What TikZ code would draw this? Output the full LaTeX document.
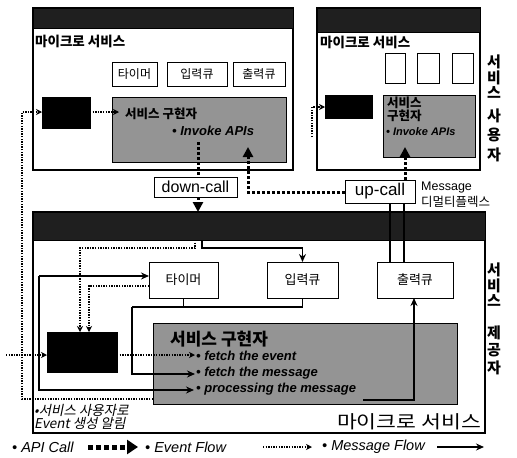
\documentclass[tikz,border=0pt]{standalone}
\usepackage{fontspec}
\setmainfont{Liberation Sans}
\newfontfamily\kr{Noto Sans CJK KR}
\newfontfamily\krit[FakeSlant=0.2]{Noto Sans CJK KR}
\usetikzlibrary{arrows.meta,fit}
\tikzset{
  frame/.style={draw=black, line width=1.1pt, fill=white, inner sep=0pt, outer sep=0pt},
  hdr/.style={fill=black!88, draw=black, inner sep=0pt, outer sep=0pt},
  qbox/.style={draw=black, line width=0.9pt, fill=white, inner sep=0pt, outer sep=0pt},
  qlab/.style={inner sep=0pt, font=\kr\fontsize{12}{13}\selectfont},
  dbox/.style={fill=black, draw=black, inner sep=0pt, outer sep=0pt},
  gbox/.style={fill=black!42, draw=black, line width=1pt, inner sep=0pt, outer sep=0pt},
  callbox/.style={draw=black, line width=0.9pt, fill=white, inner sep=0pt, outer sep=0pt},
  apiline/.style={line width=3pt, dash pattern=on 3pt off 2pt},
  api/.style={apiline, -{Triangle[length=10pt,width=10pt]}},
  event/.style={line width=1.4pt, dash pattern=on 1.4pt off 1.2pt, -{Stealth[length=6pt,width=6pt]}},
  msgline/.style={line width=1.5pt},
  msg/.style={msgline, -{Stealth[length=8pt,width=7pt]}},
  krlab/.style={font=\kr\bfseries\fontsize{13.5}{14}\selectfont, inner sep=0pt},
  vlab/.style={font=\kr\bfseries\fontsize{15}{15}\selectfont, inner sep=0pt, align=center},
  bitem/.style={font=\bfseries\itshape\fontsize{13}{14}\selectfont, inner sep=0pt, anchor=west},
  legend/.style={font=\itshape\fontsize{14.5}{15}\selectfont, inner sep=0pt, anchor=west},
}
\begin{document}
\begin{tikzpicture}[x=1pt,y=-1pt]
\useasboundingbox (0,0) rectangle (517,458);

% ---------------- top-left consumer
\node[frame, fit={(33,8) (293,170)}] (F1) {};
\node[hdr, fit={(33,8) (293,28)}] (H1) {};
\node[krlab, anchor=west] (L1) at (35,41) {마이크로 서비스};
\node[qbox, fit={(112,62) (157,86)}] (QT1) {};
\node[qlab] (QT1t) at (QT1.center) {타이머};
\node[qbox, fit={(167,62) (227,86)}] (QI1) {};
\node[qlab] (QI1t) at (QI1.center) {입력큐};
\node[qbox, fit={(233,62) (285,86)}] (QO1) {};
\node[qlab] (QO1t) at (QO1.center) {출력큐};
\node[dbox, fit={(42,97) (90,128)}] (D1) {};
\node[gbox, fit={(112,97) (286,162)}] (G1) {};
\node[krlab, anchor=west, font=\kr\bfseries\fontsize{12.5}{13}\selectfont] (G1a) at (125,114) {서비스 구현자};
\node[bitem] (G1b) at (172,131) {• Invoke APIs};

% ---------------- top-right consumer
\node[frame, fit={(317,8) (480,170)}] (F2) {};
\node[hdr, fit={(317,8) (480,32)}] (H2) {};
\node[krlab, anchor=west] (L2) at (320,42) {마이크로 서비스};
\node[qbox, fit={(385,53) (405,83)}] (E1) {};
\node[qbox, fit={(417,53) (439,83)}] (E2) {};
\node[qbox, fit={(452,53) (473,83)}] (E3) {};
\node[dbox, fit={(325,95) (372,118)}] (D2) {};
\node[gbox, fit={(383,95) (475,157)}] (G2) {};
\node[anchor=north west, align=left, font=\kr\bfseries\fontsize{12.5}{11}\selectfont, inner sep=0pt] (G2a) at (387,97) {서비스\\구현자};
\node[bitem, font=\bfseries\itshape\fontsize{11}{12}\selectfont] (G2b) at (386,132) {• Invoke APIs};

% ---------------- bottom provider
\node[frame, fit={(33,212) (485,433)}] (F3) {};
\node[hdr, fit={(33,212) (485,240)}] (H3) {};
\node[qbox, fit={(149,262) (218,298)}] (QT3) {};
\node[qlab, font=\kr\fontsize{13}{14}\selectfont] (QT3t) at (QT3.center) {타이머};
\node[qbox, fit={(267,262) (338,298)}] (QI3) {};
\node[qlab, font=\kr\fontsize{13}{14}\selectfont] (QI3t) at (QI3.center) {입력큐};
\node[qbox, fit={(377,262) (453,298)}] (QO3) {};
\node[qlab, font=\kr\fontsize{13}{14}\selectfont] (QO3t) at (QO3.center) {출력큐};
\node[dbox, fit={(47,332) (117,372)}] (D3) {};
\node[gbox, fit={(153,323) (457,404)}] (G3) {};
\node[anchor=west, font=\kr\bfseries\fontsize{17}{18}\selectfont, inner sep=0pt] (G3a) at (170,339) {서비스 구현자};
\node[bitem] (G3b) at (196,356) {• fetch the event};
\node[bitem] (G3c) at (196,373) {• fetch the message};
\node[bitem] (G3d) at (196,389) {• processing the message};
\node[font=\kr\fontsize{18}{18}\selectfont, inner sep=0pt] (L3) at (409,422) {\scalebox{1.2}[1]{마이크로 서비스}};
\node[anchor=west, align=left, font=\krit\fontsize{13.5}{13}\selectfont, inner sep=0pt] (N3) at (34,417) {•서비스 사용자로\\Event 생성 알림};

% ---------------- call boxes
\node[callbox, fit={(154,177) (237,197)}] (DC) {};
\node[font=\fontsize{16}{17}\selectfont, inner sep=0pt] (DCt) at (DC.center) {down-call};
\node[callbox, fit={(345,180) (415,203)}] (UC) {};
\node[font=\fontsize{17}{18}\selectfont, inner sep=0pt] (UCt) at (UC.center) {up-call};
\node[anchor=west, font=\fontsize{12.5}{13}\selectfont, inner sep=0pt] (MS) at (421,187) {Message};
\node[anchor=west, font=\kr\fontsize{12.5}{13}\selectfont, inner sep=0pt] (MD) at (421,202) {디멀티플렉스};

% ---------------- vertical labels
\node[vlab, font=\kr\bfseries\fontsize{15}{15.5}\selectfont] (V1) at (494,77) {서\\비\\스};
\node[vlab, font=\kr\bfseries\fontsize{15}{19.5}\selectfont] (V2) at (494,135) {사\\용\\자};
\node[vlab, font=\kr\bfseries\fontsize{15}{15.5}\selectfont] (V3) at (494,285) {서\\비\\스};
\node[vlab, font=\kr\bfseries\fontsize{15}{17.5}\selectfont] (V4) at (494,350) {제\\공\\자};

% ---------------- named bend points
\coordinate (b1) at (22,399);
\coordinate (b2) at (22,112);
\coordinate (dc0) at (198,142);
\coordinate (u1) at (248,192);
\coordinate (u1tip) at (248,147);
\coordinate (u2tip) at (405,147);
\coordinate (m1) at (390,0);
\coordinate (m2) at (404,0);
\coordinate (h1) at (202,248);
\coordinate (h2) at (195,248);
\coordinate (h3) at (80,248);
\coordinate (t1) at (89,286);
\coordinate (l1) at (39,276);
\coordinate (l2) at (39,390);
\coordinate (p3) at (194,390);
\coordinate (j1) at (132,307);
\coordinate (j2) at (132,374);
\coordinate (p2) at (195,374);
\coordinate (p1) at (195,355);
\coordinate (e0) at (6,355);
\coordinate (o1) at (363,400);
\coordinate (o2) at (414,400);
\coordinate (r1) at (312,137);
\coordinate (r2) at (312,107);
\coordinate (g1in) at (119,112);

% ---------------- connectors: top
\draw[event] (D1.east |- g1in) -- (g1in);
\draw[event] (G3.west |- b1) -- (b1) -- (b2) -- (D1.west |- b2);
\draw[apiline] (dc0) -- (DC.north -| dc0);
\draw[api] (DC.south -| dc0) -- (H3.north -| dc0);
\draw[api] (UC.west |- u1) -- (u1) -- (u1tip);
\draw[api] (UC.north -| u2tip) -- (u2tip);
\draw[event] (r1) -- (r2) -- (D2.west |- r2);
\draw[msgline] (QO3.north -| m1) -- (UC.south -| m1);
\draw[msgline] (QO3.north -| m2) -- (UC.south -| m2);

% ---------------- connectors: bottom
\draw[msg] (H3.south -| h1) -- (h1) -- (QI3.north |- h1) -- (QI3.north);
\draw[event] (H3.south -| h2) -- (h2) -- (h3) -- (D3.north -| h3);
\draw[event] (QT3.west |- t1) -- (t1) -- (D3.north -| t1);
\draw[msg] (l1) -- (QT3.west |- l1);
\draw[msg] (l1) -- (l2) -- (p3);
\draw[msgline] (QT3.south) -- (QT3.south |- j1);
\draw[msgline] (QI3.south) -- (QI3.south |- j1) -- (j1);
\draw[msg] (j1) -- (j2) -- (p2);
\draw[event] (D3.east |- p1) -- (p1);
\draw[event] (e0) -- (D3.west |- e0);
\draw[msg] (o1) -- (o2) -- (QO3.south -| o2);

% ---------------- legend
\node[legend] (K1) at (12,447) {• API Call};
\coordinate (k1a) at (88,447);
\coordinate (k1b) at (138,447);
\draw[line width=5pt, dash pattern=on 5pt off 3pt, -{Triangle[length=11pt,width=14pt]}] (k1a) -- (k1b);
\node[legend] (K2) at (145,447) {• Event Flow};
\coordinate (k2a) at (263,447);
\coordinate (k2b) at (312,447);
\draw[event] (k2a) -- (k2b);
\node[legend] (K3) at (322,447) {• Message Flow};
\coordinate (k3a) at (437,447);
\coordinate (k3b) at (484,447);
\draw[msg] (k3a) -- (k3b);
\end{tikzpicture}
\end{document}
